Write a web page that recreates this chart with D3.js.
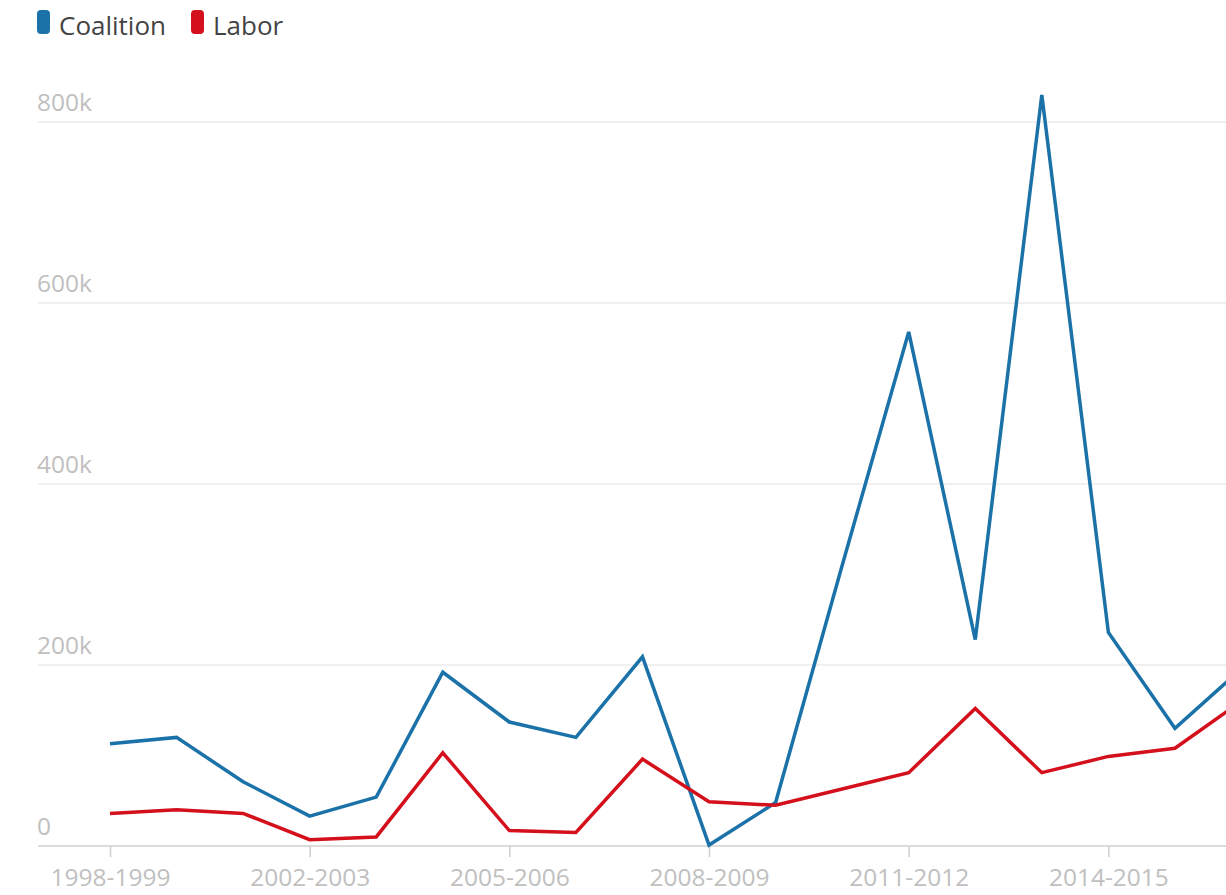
<!DOCTYPE html>
<html>
<head>
<meta charset="utf-8">
<script src="https://cdn.jsdelivr.net/npm/d3@7"></script>
<style>
  html, body { margin: 0; padding: 0; background: #fff; overflow: hidden; }
  svg { display: block; font-family: "Open Sans", "Noto Sans", sans-serif; }
</style>
</head>
<body>
<svg id="chart" width="1226" height="895"></svg>
<script>
// ---- Data ----
const categories = [
  "1998-1999", "1999-2000", "2000-2001", "2002-2003", "2003-2004", "2004-2005",
  "2005-2006", "2006-2007", "2007-2008", "2008-2009", "2009-2010", "2010-2011",
  "2011-2012", "2012-2013", "2013-2014", "2014-2015", "2015-2016", "2016-2017"
];
const coalition = [113000, 120000, 71000, 33000, 54000, 192000, 137000, 120000, 209000, 1000,
                   48000, 310000, 568000, 228000, 830000, 236000, 130000, 196000];
const labor = [36000, 40000, 36000, 7000, 10000, 103000, 17000, 15000, 96000, 49000,
               45000, 63000, 81000, 152000, 81000, 99000, 108000, 160000];
const xTickLabels = ["1998-1999", "2002-2003", "2005-2006", "2008-2009", "2011-2012", "2014-2015"];
const yTicks = [0, 200000, 400000, 600000, 800000];
const seriesNames = ["Coalition", "Labor"];
const seriesColors = ["#1b72a8", "#d4101c"];

// ---- Scales ----
const svg = d3.select("#chart");
const W = 1226;
const x = d3.scalePoint().domain(categories).range([110, 1241.5]);
const y = d3.scaleLinear().domain([0, 800000]).range([846, 122]);
const fmt = v => v === 0 ? "0" : (v / 1000) + "k";

// ---- Gridlines + y labels ----
const grid = svg.append("g");
grid.selectAll("line.grid")
  .data(yTicks.filter(d => d > 0))
  .join("line")
  .attr("x1", 38).attr("x2", W)
  .attr("y1", d => y(d)).attr("y2", d => y(d))
  .attr("stroke", "#ebebeb").attr("stroke-width", 1.5);

grid.selectAll("text.ylab")
  .data(yTicks)
  .join("text")
  .attr("x", 37)
  .attr("y", d => y(d) - 11)
  .attr("fill", "#c0c0c0")
  .attr("font-size", 24.5)
  .text(fmt);

// ---- X axis ----
const xAxis = d3.axisBottom(x)
  .tickValues(xTickLabels)
  .tickSize(11)
  .tickSizeOuter(0)
  .tickPadding(12);
const gx = svg.append("g").attr("transform", `translate(0,${y(0)})`).call(xAxis);
gx.select(".domain").remove();
gx.selectAll(".tick line").attr("stroke", "#cfcfcf").attr("stroke-width", 1.5);
gx.selectAll(".tick text").attr("fill", "#c0c0c0").attr("font-size", 24.5)
  .attr("font-family", "\"Open Sans\", sans-serif");
svg.insert("line", ":first-child")
  .attr("x1", 38).attr("x2", W)
  .attr("y1", y(0)).attr("y2", y(0))
  .attr("stroke", "#dcdcdc").attr("stroke-width", 2);

// ---- Lines ----
const line = d3.line()
  .x((d, i) => x(categories[i]))
  .y(d => y(d));
[coalition, labor].forEach((s, k) => {
  svg.append("path")
    .datum(s)
    .attr("fill", "none")
    .attr("stroke", seriesColors[k])
    .attr("stroke-width", 3.5)
    .attr("stroke-linejoin", "miter")
    .attr("d", line);
});

// ---- Legend ----
const legendX = [37, 191];
const leg = svg.append("g");
seriesNames.forEach((name, k) => {
  leg.append("rect")
    .attr("x", legendX[k]).attr("y", 10)
    .attr("width", 13).attr("height", 24)
    .attr("rx", 4)
    .attr("fill", seriesColors[k]);
  leg.append("text")
    .attr("x", legendX[k] + 22).attr("y", 35)
    .attr("font-size", 26)
    .attr("fill", "#444")
    .text(name);
});
</script>
</body>
</html>
